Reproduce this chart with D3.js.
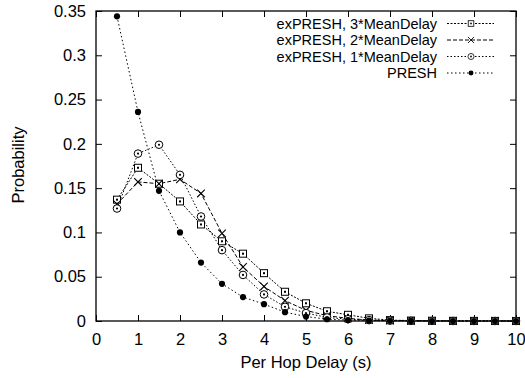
<!DOCTYPE html>
<html>
<head>
<meta charset="utf-8">
<script src="https://cdn.jsdelivr.net/npm/d3@7"></script>
<style>
  body { margin: 0; background: #fff; }
  svg { display: block; font-family: "Liberation Sans", Arial, sans-serif; }
</style>
</head>
<body>
<div id="chart"></div>
<script>
// delay bins (s)
const delays = [0.5, 1, 1.5, 2, 2.5, 3, 3.5, 4, 4.5, 5, 5.5, 6, 6.5, 7, 7.5, 8, 8.5, 9, 9.5, 10];

// probabilities
const ex3Mean = [0.137, 0.173, 0.155, 0.135, 0.109, 0.090, 0.076, 0.054, 0.033, 0.020, 0.011, 0.007, 0.003, 0.001, 0.0005, 0.0003, 0.0002, 0.0001, 0.0001, 0];
const ex2Mean = [0.132, 0.157, 0.155, 0.160, 0.144, 0.099, 0.061, 0.039, 0.023, 0.012, 0.006, 0.003, 0.001, 0.0005, 0.0002, 0.0001, 0, 0, 0, 0];
const ex1Mean = [0.127, 0.189, 0.199, 0.165, 0.118, 0.080, 0.052, 0.030, 0.016, 0.009, 0.004, 0.002, 0.001, 0.0004, 0.0002, 0.0001, 0, 0, 0, 0];
const presh   = [0.344, 0.236, 0.147, 0.100, 0.066, 0.042, 0.027, 0.019, 0.010, 0.005, 0.002, 0.001, 0.0005, 0.0002, 0.0001, 0, 0, 0, 0, 0];

const xTicks = [0, 1, 2, 3, 4, 5, 6, 7, 8, 9, 10];
const yTicks = [0, 0.05, 0.1, 0.15, 0.2, 0.25, 0.3, 0.35];

const series = [
  { name: "exPRESH, 3*MeanDelay", values: ex3Mean, marker: "square", dash: "2,1.5" },
  { name: "exPRESH, 2*MeanDelay", values: ex2Mean, marker: "cross", dash: "4,2" },
  { name: "exPRESH, 1*MeanDelay", values: ex1Mean, marker: "circle", dash: "1.5,2" },
  { name: "PRESH", values: presh, marker: "dot", dash: "1.5,2.5" }
];

const W = 525, H = 378;
const margin = { top: 11, right: 9, bottom: 57, left: 96 };
const w = W - margin.left - margin.right;
const h = H - margin.top - margin.bottom;

const svg = d3.select("#chart").append("svg").attr("width", W).attr("height", H);
const g = svg.append("g").attr("transform", `translate(${margin.left},${margin.top})`);

const x = d3.scaleLinear().domain([0, 10]).range([0, w]);
const y = d3.scaleLinear().domain([0, 0.35]).range([h, 0]);

const fmtY = d => d === 0 ? "0" : String(d);

// axes, ticks pointing inward and mirrored like gnuplot
const tk = 6;
g.append("g").attr("transform", `translate(0,${h})`)
  .call(d3.axisBottom(x).tickValues(xTicks).tickSize(-tk).tickPadding(12).tickFormat(d3.format("d")));
g.append("g").call(d3.axisTop(x).tickValues(xTicks).tickSize(-tk).tickFormat(""));
g.append("g")
  .call(d3.axisLeft(y).tickValues(yTicks).tickSize(-tk).tickPadding(10).tickFormat(fmtY));
g.append("g").attr("transform", `translate(${w},0)`)
  .call(d3.axisRight(y).tickValues(yTicks).tickSize(-tk).tickFormat(""));
g.selectAll(".domain").remove();
g.selectAll(".tick line").attr("stroke", "#000");
g.selectAll(".tick text").attr("fill", "#000").style("font-size", "16.5px");

g.append("rect").attr("width", w).attr("height", h)
  .attr("fill", "none").attr("stroke", "#000").attr("stroke-width", 1.3);

// axis titles
svg.append("text").attr("x", margin.left + w / 2).attr("y", 368)
  .attr("text-anchor", "middle").style("font-size", "16.5px").text("Per Hop Delay (s)");
svg.append("text").attr("transform", "translate(24,165) rotate(-90)")
  .attr("text-anchor", "middle").style("font-size", "16.5px").text("Probability");

function drawMarker(sel, kind) {
  if (kind === "square") {
    sel.append("rect").attr("x", -3.5).attr("y", -3.5).attr("width", 7).attr("height", 7)
      .attr("fill", "#fff").attr("stroke", "#000").attr("stroke-width", 1);
    sel.append("rect").attr("x", -1).attr("y", -1).attr("width", 2).attr("height", 2).attr("fill", "#000");
  } else if (kind === "cross") {
    sel.append("path").attr("d", "M-3.8,-3.8L3.8,3.8M-3.8,3.8L3.8,-3.8").attr("stroke", "#000").attr("stroke-width", 1.1);
  } else if (kind === "circle") {
    sel.append("circle").attr("r", 3.8).attr("fill", "#fff").attr("stroke", "#000").attr("stroke-width", 1);
    sel.append("circle").attr("r", 1.1).attr("fill", "#000");
  } else {
    sel.append("circle").attr("r", 3.1).attr("fill", "#000");
  }
}

const line = d3.line().x(d => x(d[0])).y(d => y(d[1]));

series.forEach(s => {
  const pts = delays.map((d, i) => [d, s.values[i]]);
  g.append("path").datum(pts).attr("d", line)
    .attr("fill", "none").attr("stroke", "#000").attr("stroke-width", 1)
    .attr("stroke-dasharray", s.dash);
});
series.forEach(s => {
  const pts = delays.map((d, i) => [d, s.values[i]]);
  g.append("g").selectAll("g").data(pts).join("g")
    .attr("transform", d => `translate(${x(d[0])},${y(d[1])})`)
    .each(function () { drawMarker(d3.select(this), s.marker); });
});

// legend, top right
const leg = svg.append("g");
series.forEach((s, i) => {
  const ly = 23.5 + i * 16.5;
  leg.append("text").attr("x", 437).attr("y", ly).attr("dy", "0.35em")
    .attr("text-anchor", "end").style("font-size", "14.5px").text(s.name);
  leg.append("line").attr("x1", 447).attr("x2", 494).attr("y1", ly).attr("y2", ly)
    .attr("stroke", "#000").attr("stroke-width", 1).attr("stroke-dasharray", s.dash);
  const m = leg.append("g");
  drawMarker(m, s.marker);
  m.attr("transform", `translate(471,${ly}) scale(0.8)`);
});
</script>
</body>
</html>
